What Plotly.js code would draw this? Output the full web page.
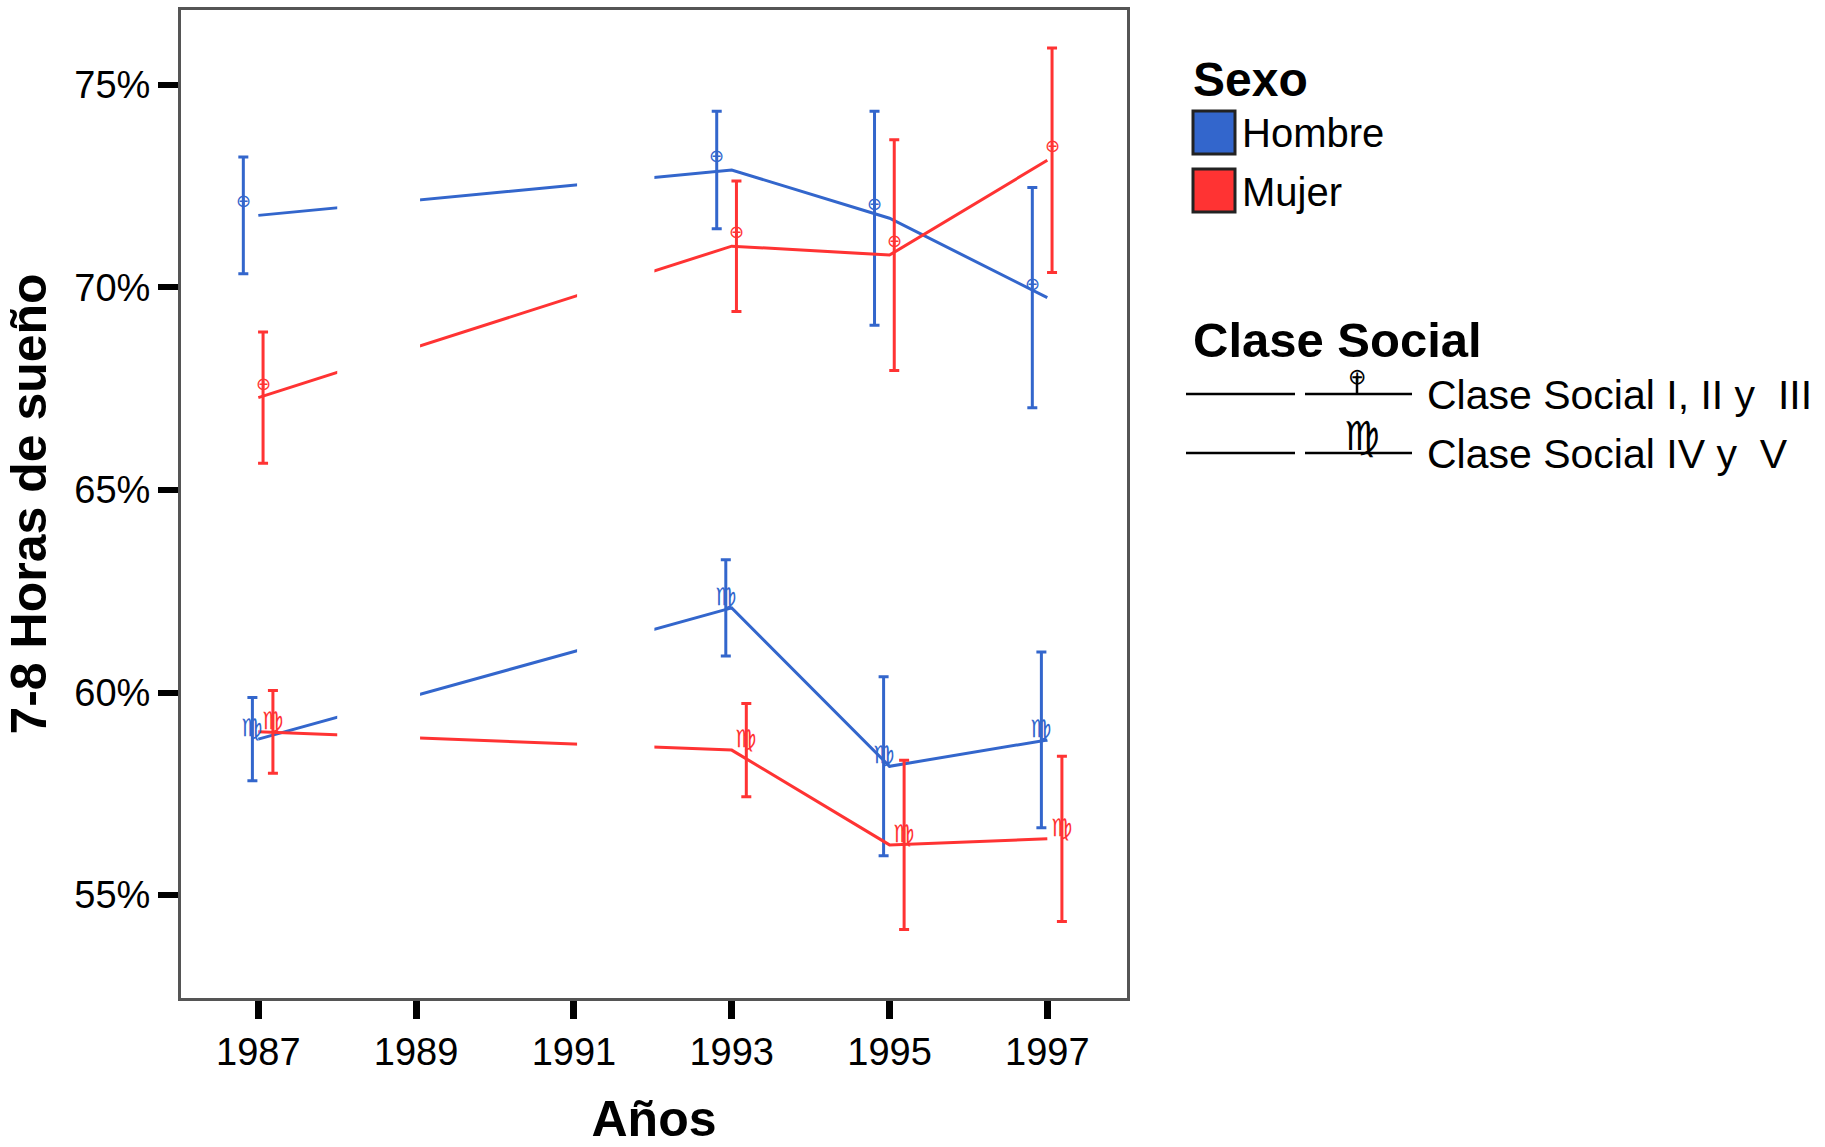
<!DOCTYPE html>
<html>
<head>
<meta charset="utf-8">
<script src="https://cdn.plot.ly/plotly-3.0.1.min.js"></script>
<style>html,body{margin:0;padding:0;background:#fff;}#chart{width:1825px;height:1147px;}</style>
</head>
<body>
<div id="chart"></div>
<script>
// ---- data ----
const years = [1987, 1993, 1995, 1997];
const hombreAlta    = [71.78, 72.90, 71.71, 69.75];   // Clase Social I, II y III
const hombreAltaErr = [1.44, 1.45, 2.64, 2.72];
const mujerAlta     = [67.28, 71.02, 70.80, 73.14];
const mujerAltaErr  = [1.62, 1.61, 2.85, 2.77];
const hombreBaja    = [58.85, 62.09, 58.18, 58.83];   // Clase Social IV y V
const hombreBajaErr = [1.03, 1.19, 2.21, 2.17];
const mujerBaja     = [59.03, 58.58, 56.24, 56.39];
const mujerBajaErr  = [1.02, 1.15, 2.09, 2.04];
const xTicks = [1987, 1989, 1991, 1993, 1995, 1997];
const yTicks = [55, 60, 65, 70, 75];
const gapSpans = [[1988.0, 1989.05], [1991.04, 1992.02]];

// ---- styles ----
const BLUE = '#3366CC', RED = '#FF3333';
const FONT = 'Liberation Sans, Arial, Helvetica, sans-serif';
const L = 181, T = 10, W = 946, H = 988, FW = 1825, FH = 1147;
const px = x => (x - L) / W;
const py = y => 1 - (y - T) / H;

const groups = [
  {y: hombreAlta, e: hombreAltaErr, c: BLUE, dx: -0.19, g: '⊕'},
  {y: hombreBaja, e: hombreBajaErr, c: BLUE, dx: -0.075, g: '♍'},
  {y: mujerAlta,  e: mujerAltaErr,  c: RED,  dx: 0.06,  g: '⊕'},
  {y: mujerBaja,  e: mujerBajaErr,  c: RED,  dx: 0.185,  g: '♍'}
];

const traces = [];
const annotations = [];
groups.forEach(gr => {
  traces.push({x: years, y: gr.y, type: 'scatter', mode: 'lines',
    line: {color: gr.c, width: 3}, hoverinfo: 'skip', showlegend: false});
  const xd = years.map(v => v + gr.dx);
  traces.push({x: xd, y: gr.y, type: 'scatter', mode: 'markers',
    marker: {size: 1, opacity: 0}, showlegend: false, hoverinfo: 'skip',
    error_y: {type: 'data', array: gr.e, visible: true, color: gr.c, thickness: 3, width: 5}});
  xd.forEach((xv, i) => {
    if (gr.g === '⊕') {
      annotations.push({x: xv, y: gr.y[i], xref: 'x', yref: 'y', text: gr.g, showarrow: false,
        yanchor: 'middle', yshift: 14.5, font: {family: 'DejaVu Sans', size: 18, color: gr.c}});
    } else {
      annotations.push({x: xv, y: gr.y[i], xref: 'x', yref: 'y', text: gr.g, showarrow: false,
        yanchor: 'bottom', yshift: -4, borderpad: 0, font: {family: 'DejaVu Sans', size: 24, color: gr.c}});
    }
  });
});

const shapes = gapSpans.map(s => ({type: 'rect', xref: 'x', yref: 'y', x0: s[0], x1: s[1],
  y0: 52.6, y1: 76.7, fillcolor: '#fff', line: {width: 0}, layer: 'above'}));

// ---- legend (drawn) ----
annotations.push({xref: 'paper', yref: 'paper', x: px(1191), y: py(79), xanchor: 'left', yanchor: 'middle',
  text: '<b>Sexo</b>', showarrow: false, font: {family: FONT, size: 48, color: '#000'}});
[[BLUE, 111, 154, 'Hombre', 133], [RED, 169, 212, 'Mujer', 192]].forEach(r => {
  shapes.push({type: 'rect', xref: 'paper', yref: 'paper', x0: px(1193), x1: px(1235), y0: py(r[2]), y1: py(r[1]),
    fillcolor: r[0], line: {color: '#222', width: 3}});
  annotations.push({xref: 'paper', yref: 'paper', x: px(1240), y: py(r[4]), xanchor: 'left', yanchor: 'middle',
    text: r[3], showarrow: false, font: {family: FONT, size: 40, color: '#000'}});
});
annotations.push({xref: 'paper', yref: 'paper', x: px(1191), y: py(340), xanchor: 'left', yanchor: 'middle',
  text: '<b>Clase Social</b>', showarrow: false, font: {family: FONT, size: 49, color: '#000'}});
[[394, 'Clase Social I, II y\u00a0 III', '⊕'], [453, 'Clase Social IV y\u00a0 V', '♍']].forEach(r => {
  [[1186, 1295], [1305, 1412]].forEach(seg => shapes.push({type: 'line', xref: 'paper', yref: 'paper',
    x0: px(seg[0]), x1: px(seg[1]), y0: py(r[0]), y1: py(r[0]), line: {color: '#000', width: 2.5}}));
  if (r[2] === '⊕') {
    shapes.push({type: 'line', xref: 'paper', yref: 'paper', x0: px(1357), x1: px(1357),
      y0: py(r[0]), y1: py(376), line: {color: '#000', width: 2.5}});
    annotations.push({xref: 'paper', yref: 'paper', x: px(1357), y: py(376), xanchor: 'center', yanchor: 'middle',
      text: '⊕', showarrow: false, font: {family: 'DejaVu Sans', size: 22, color: '#000'}});
  } else {
    annotations.push({xref: 'paper', yref: 'paper', x: px(1362), y: py(r[0] + 8), xanchor: 'center', yanchor: 'bottom',
      text: '♍', showarrow: false, font: {family: 'DejaVu Sans', size: 40, color: '#000'}});
  }
  annotations.push({xref: 'paper', yref: 'paper', x: px(1425), y: py(r[0] + 1), xanchor: 'left', yanchor: 'middle',
    text: r[1], showarrow: false, font: {family: FONT, size: 41, color: '#000'}});
});

const layout = {
  width: FW, height: FH,
  margin: {l: L, r: FW - L - W, t: T, b: FH - T - H, pad: 0},
  paper_bgcolor: '#fff', plot_bgcolor: '#fff',
  showlegend: false,
  font: {family: FONT, color: '#000'},
  xaxis: {range: [1986.02, 1998.01], tickvals: xTicks, ticktext: xTicks.map(String),
    ticks: 'outside', ticklen: 18, tickwidth: 7, tickcolor: '#000',
    showline: true, linecolor: '#555', linewidth: 3, mirror: true, showgrid: false, zeroline: false,
    tickfont: {family: FONT, size: 38, color: '#000'},
    title: {text: '<b>Años</b>', font: {family: FONT, size: 50, color: '#000'}, standoff: 30}},
  yaxis: {range: [52.46, 76.85], tickvals: yTicks, ticktext: yTicks.map(v => v + '%'),
    ticks: 'outside', ticklen: 20, tickwidth: 6, tickcolor: '#000',
    showline: true, linecolor: '#555', linewidth: 3, mirror: true, showgrid: false, zeroline: false,
    tickfont: {family: FONT, size: 38, color: '#000'},
    title: {text: '<b>7-8 Horas de sueño</b>', font: {family: FONT, size: 50, color: '#000'}, standoff: 12}},
  shapes: shapes,
  annotations: annotations
};

Plotly.newPlot('chart', traces, layout, {staticPlot: true, displayModeBar: false});
</script>
</body>
</html>
